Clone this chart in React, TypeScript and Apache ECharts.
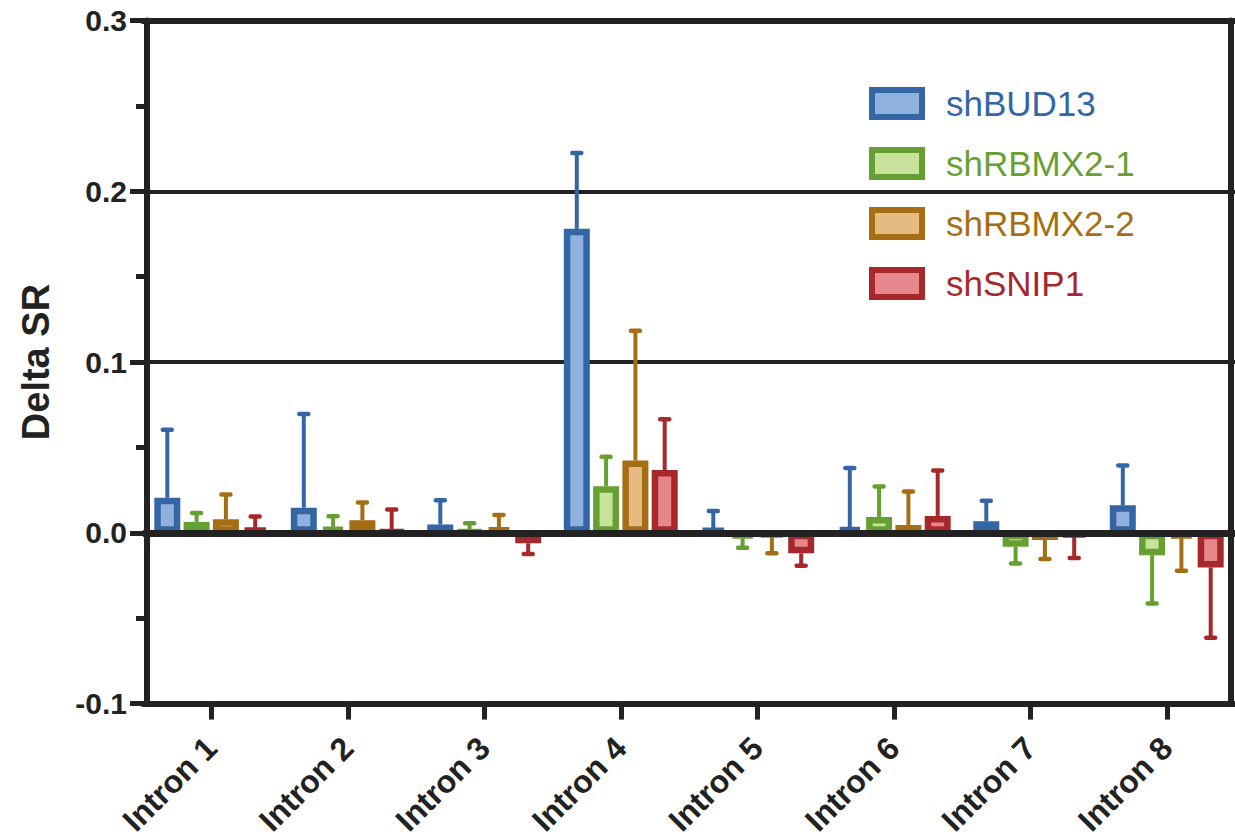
import React, { useEffect, useRef } from "react";
import * as echarts from "echarts";

const introns = ["Intron 1", "Intron 2", "Intron 3", "Intron 4", "Intron 5", "Intron 6", "Intron 7", "Intron 8"];
const seriesNames = ["shBUD13", "shRBMX2-1", "shRBMX2-2", "shSNIP1"];
const yTicks = [-0.1, 0.0, 0.1, 0.2, 0.3];

const bud13 = [0.0205, 0.0147, 0.0049, 0.178, 0.0025, 0.0033, 0.0068, 0.0161];
const bud13Err = [0.0398, 0.0549, 0.0142, 0.0444, 0.0103, 0.0346, 0.012, 0.0233];
const rbmx21 = [0.0064, 0.0035, 0.001, 0.0273, -0.0032, 0.0093, -0.0081, -0.0131];
const rbmx21Err = [0.0052, 0.0062, 0.0046, 0.0172, 0.0055, 0.0178, 0.0099, 0.0283];
const rbmx22 = [0.0079, 0.0074, 0.0031, 0.0423, -0.0021, 0.0046, -0.0042, -0.0031];
const rbmx22Err = [0.0145, 0.0104, 0.0073, 0.076, 0.0099, 0.0196, 0.0111, 0.0191];
const snip1 = [0.0027, 0.001, -0.0061, 0.0368, -0.012, 0.0099, -0.002, -0.0203];
const snip1Err = [0.0068, 0.0127, 0.0063, 0.0297, 0.0073, 0.0266, 0.0127, 0.0412];

const means = [bud13, rbmx21, rbmx22, snip1];
const errs = [bud13Err, rbmx21Err, rbmx22Err, snip1Err];

const borderColors = ["#3466a5", "#67a032", "#a66e14", "#a6282a"];
const fillColors = ["#90b1de", "#c9e29b", "#e4bb82", "#e5878b"];

const BAR_W = 26;
const BAR_GAP = 0.127;
const AXIS_COLOR = "#222222";
const FONT = "Liberation Sans, Arial, sans-serif";

export default function App() {
  const ref = useRef<HTMLDivElement>(null);

  useEffect(() => {
    if (!ref.current) return;
    const chart = echarts.init(ref.current, null, { renderer: "svg" });

    const barSeries = seriesNames.map((name, k) => ({
      name,
      type: "bar",
      data: means[k],
      barWidth: BAR_W,
      barGap: `${BAR_GAP * 100}%`,
      itemStyle: { color: fillColors[k], borderColor: borderColors[k], borderWidth: 6.5 },
      z: 2,
      ...(k === seriesNames.length - 1
        ? {
            markLine: {
              silent: true,
              symbol: ["none", "none"],
              label: { show: false },
              lineStyle: { color: AXIS_COLOR, width: 7, type: "solid" },
              data: [{ yAxis: 0 }],
              z: 6,
            },
          }
        : {}),
    }));

    const errSeries = seriesNames.map((name, k) => ({
      name: name + " error",
      type: "custom",
      z: 3,
      encode: { x: 0, y: 1 },
      data: means[k].map((v, i) => [i, v, errs[k][i]]),
      renderItem: (params: any, api: any) => {
        const idx = api.value(0);
        const v = api.value(1);
        const e = api.value(2);
        const base = api.coord([idx, v]);
        const end = api.coord([idx, v + (v < 0 ? -e : e)]);
        const step = BAR_W * (1 + BAR_GAP);
        const x = base[0] + (k - 1.5) * step;
        return {
          type: "group",
          children: [
            {
              type: "line",
              shape: { x1: x, y1: base[1], x2: x, y2: end[1] },
              style: { stroke: borderColors[k], lineWidth: 4 },
            },
            {
              type: "line",
              shape: { x1: x - 4.5, y1: end[1], x2: x + 4.5, y2: end[1] },
              style: { stroke: borderColors[k], lineWidth: 4.5, lineCap: "round" },
            },
          ],
        };
      },
    }));

    chart.setOption({
      animation: false,
      backgroundColor: "#ffffff",
      grid: { left: 143, right: 0, top: 20.5, bottom: 129, containLabel: false },
      legend: {
        orient: "vertical",
        left: 864,
        top: 81,
        icon: "rect",
        itemWidth: 50,
        itemHeight: 27,
        itemGap: 25,
        itemStyle: { borderWidth: 6 },
        textStyle: { fontFamily: FONT, fontSize: 35, padding: [0, 0, 0, 19] },
        data: seriesNames.map((n, i) => ({
          name: n,
          textStyle: { color: borderColors[i], padding: [0, 0, 0, 19] },
        })),
      },
      xAxis: [
        {
          type: "category",
          data: introns,
          position: "bottom",
          axisLine: { show: true, onZero: false, lineStyle: { color: AXIS_COLOR, width: 6 } },
          axisTick: { show: true, alignWithLabel: true, length: 16, lineStyle: { color: AXIS_COLOR, width: 5 } },
          axisLabel: {
            interval: 0,
            rotate: 45,
            margin: 39,
            color: AXIS_COLOR,
            fontFamily: FONT,
            fontWeight: "bold",
            fontSize: 32,
          },
          splitLine: { show: false },
        },
        {
          type: "category",
          data: introns,
          position: "top",
          axisLine: { show: true, onZero: false, lineStyle: { color: AXIS_COLOR, width: 6 } },
          axisTick: { show: false },
          axisLabel: { show: false },
          splitLine: { show: false },
        },
      ],
      yAxis: [
        {
          type: "value",
          min: yTicks[0],
          max: yTicks[yTicks.length - 1],
          interval: 0.1,
          offset: -4,
          name: "Delta SR",
          nameLocation: "middle",
          nameRotate: 90,
          nameGap: 92,
          nameTextStyle: {
            fontFamily: "Liberation Sans Narrow, Arial Narrow, sans-serif",
            fontWeight: "bold",
            fontSize: 38,
            color: AXIS_COLOR,
          },
          axisLine: { show: true, lineStyle: { color: AXIS_COLOR, width: 6 } },
          axisTick: { show: true, length: 17, lineStyle: { color: AXIS_COLOR, width: 5 } },
          minorTick: { show: true, splitNumber: 2, length: 11, lineStyle: { color: AXIS_COLOR, width: 5 } },
          axisLabel: {
            margin: 20,
            color: AXIS_COLOR,
            fontFamily: FONT,
            fontWeight: "bold",
            fontSize: 30,
            formatter: (v: number) => v.toFixed(1),
          },
          splitLine: { show: true, lineStyle: { color: AXIS_COLOR, width: 4 } },
        },
        {
          type: "value",
          position: "right",
          min: yTicks[0],
          max: yTicks[yTicks.length - 1],
          interval: 0.1,
          offset: -4,
          axisLine: { show: true, lineStyle: { color: AXIS_COLOR, width: 6 } },
          axisTick: { show: false },
          axisLabel: { show: false },
          splitLine: { show: false },
        },
      ],
      series: [...barSeries, ...errSeries],
    });

    return () => chart.dispose();
  }, []);

  return (
    <div
      ref={ref}
      style={{ position: "absolute", left: 0, top: 0, width: 1235, height: 839, background: "#fff" }}
    />
  );
}
